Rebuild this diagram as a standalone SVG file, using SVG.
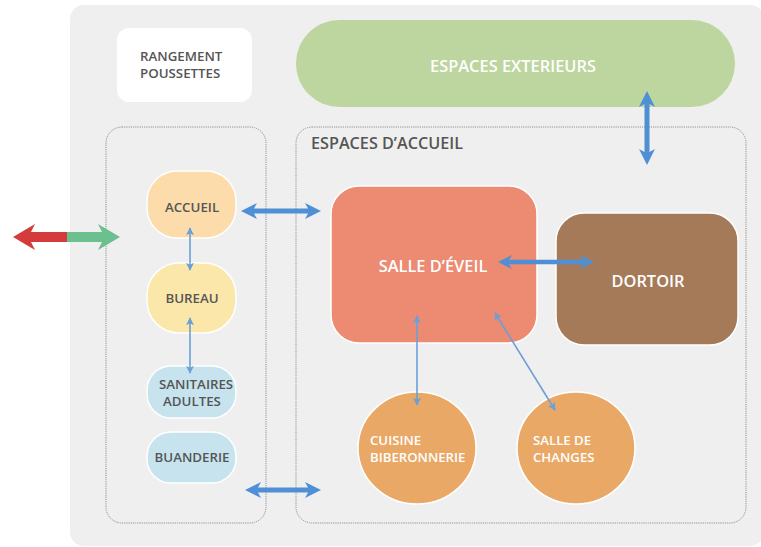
<svg xmlns="http://www.w3.org/2000/svg" width="761" height="547" viewBox="0 0 761 547">
<defs>
<marker id="sh" viewBox="0 0 10 10" refX="9" refY="5" markerWidth="5" markerHeight="5" orient="auto-start-reverse">
<path d="M0,0 L10,5 L0,10 L2.5,5 Z" fill="#6b9fd8"/>
</marker>
</defs>
<style>
.lbl{font-family:"Open Sans","Noto Sans",sans-serif;font-weight:600;}
.dk{fill:#555555;font-size:13.3px;}
.wh{fill:#ffffff;font-size:16.4px;}
.whs{fill:#ffffff;font-size:13.2px;}
.dot{fill:none;stroke:#8f8f8f;stroke-width:1;stroke-dasharray:1.2 1;}
.pn{stroke:#ffffff;stroke-width:1.5;}
.thin{stroke:#6b9fd8;stroke-width:1.6;fill:none;marker-start:url(#sh);marker-end:url(#sh);}
.blue{fill:#4f8fd6;}
</style>
<rect id="panel" x="70" y="5" width="694" height="541" rx="14" fill="#efefef"/>
<g id="rangement">
<rect x="117" y="28" width="135" height="74" rx="12" fill="#ffffff"/>
<text class="lbl dk" x="140" y="61">RANGEMENT</text>
<text class="lbl dk" x="140" y="78">POUSSETTES</text>
</g>
<g id="exterieurs">
<rect x="296" y="20" width="439" height="87" rx="43.5" fill="#bdd59e"/>
<text class="lbl wh" x="513" y="72" text-anchor="middle">ESPACES EXTERIEURS</text>
</g>
<g id="groupe-gauche">
<rect class="dot" x="106" y="127" width="160" height="396" rx="16"/>
</g>
<g id="espaces-accueil">
<rect class="dot" x="296" y="127" width="450" height="396" rx="16"/>
<text class="lbl" x="311" y="149" fill="#555555" font-size="16.2">ESPACES D’ACCUEIL</text>
</g>
<g id="accueil">
<rect class="pn" x="147" y="171" width="89" height="67" rx="30" fill="#fbdcaa"/>
<text class="lbl dk" x="192" y="212" text-anchor="middle">ACCUEIL</text>
</g>
<g id="bureau">
<rect class="pn" x="147" y="263" width="89" height="70" rx="32" fill="#fbe7a9"/>
<text class="lbl dk" x="192" y="303" text-anchor="middle">BUREAU</text>
</g>
<g id="sanitaires">
<rect class="pn" x="147" y="366" width="89" height="52" rx="24" fill="#c7e4ee"/>
<text class="lbl dk" x="159" y="389" font-size="11.4">SANITAIRES</text>
<text class="lbl dk" x="163" y="406" font-size="11.4">ADULTES</text>
</g>
<g id="buanderie">
<rect class="pn" x="147" y="432" width="89" height="51" rx="24" fill="#c7e4ee"/>
<text class="lbl dk" x="192" y="462" text-anchor="middle" font-size="11.7">BUANDERIE</text>
</g>
<g id="salle-eveil">
<rect class="pn" x="331" y="186" width="206" height="157" rx="28" fill="#ec8a72"/>
<text class="lbl wh" x="433" y="272" text-anchor="middle">SALLE D’ÉVEIL</text>
</g>
<g id="dortoir">
<rect class="pn" x="556" y="213" width="182" height="132" rx="28" fill="#a57a59"/>
<text class="lbl wh" x="648" y="287" text-anchor="middle">DORTOIR</text>
</g>
<g id="cuisine">
<ellipse class="pn" cx="417" cy="448" rx="59" ry="56" fill="#e9a866"/>
<text class="lbl whs" x="370" y="445">CUISINE</text>
<text class="lbl whs" x="370" y="462">BIBERONNERIE</text>
</g>
<g id="changes">
<ellipse class="pn" cx="576" cy="448" rx="59" ry="56" fill="#e9a866"/>
<text class="lbl whs" x="533" y="445">SALLE DE</text>
<text class="lbl whs" x="533" y="462">CHANGES</text>
</g>
<g id="connectors">
<polygon fill="#d43c3b" points="13,237 35,224 31,232 67,232 67,242 31,242 35,250"/>
<polygon fill="#6cbf8e" points="120,237 98,224 102,232 67,232 67,242 102,242 98,250"/>
<polygon class="blue" points="241,211 257,203 254,208.5 308,208.5 305,203 321,211 305,219 308,213.5 254,213.5 257,219"/>
<polygon class="blue" points="245,490 261,482 258,487.5 308,487.5 305,482 321,490 305,498 308,492.5 258,492.5 261,498"/>
<polygon class="blue" points="498,262 512,255 509,259.8 583,259.8 580,255 594,262 580,269 583,264.2 509,264.2 512,269"/>
<polygon class="blue" points="647,91 639,107 644.5,104 644.5,152 639,149 647,165 655,149 649.5,152 649.5,104 655,107"/>
<line class="thin" x1="190" y1="228" x2="190" y2="270"/>
<line class="thin" x1="190" y1="318" x2="190" y2="373"/>
<line class="thin" x1="417" y1="316" x2="417" y2="405"/>
<line class="thin" x1="495" y1="313" x2="555" y2="410"/>
</g>
</svg>
